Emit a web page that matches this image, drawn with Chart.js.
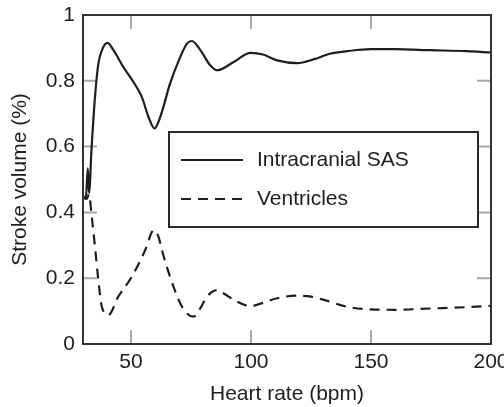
<!DOCTYPE html>
<html>
<head>
<meta charset="utf-8">
<script src="https://cdn.jsdelivr.net/npm/chart.js@4/dist/chart.umd.min.js"></script>
<style>
html,body{margin:0;padding:0;background:#fff;}
#wrap{width:504px;height:407px;position:relative;}
</style>
</head>
<body>
<div id="wrap"><canvas id="c" width="504" height="407"></canvas></div>
<script>
const sasX = [30, 31.2, 32, 32.5, 33.6, 35, 36.4, 38, 40.2, 42.7, 46.8, 49.6, 52, 54.5, 57.3, 59.8, 62.2, 66.3, 70.5, 73.3, 75.4, 78.9, 83, 85.8, 92.8, 99.8, 105, 110.9, 119.3, 126, 133.2, 140, 149.9, 160, 175, 190, 200];
const sasY = [0.447, 0.443, 0.534, 0.459, 0.599, 0.751, 0.852, 0.895, 0.915, 0.893, 0.842, 0.812, 0.785, 0.751, 0.69, 0.655, 0.69, 0.792, 0.872, 0.913, 0.921, 0.893, 0.847, 0.832, 0.857, 0.885, 0.88, 0.862, 0.854, 0.865, 0.883, 0.89, 0.896, 0.896, 0.893, 0.89, 0.886];
const venX = [30, 31.5, 32.5, 33.6, 35, 36.4, 37.8, 40.6, 44.7, 50.3, 55.9, 59.5, 61.5, 62.9, 66.3, 70.5, 73, 76.1, 79, 81.7, 85.8, 89, 92.8, 99.8, 105, 110.9, 119.3, 125, 130.4, 140.2, 149.9, 160, 175, 190, 200];
const venY = [0.45, 0.44, 0.455, 0.39, 0.295, 0.194, 0.115, 0.088, 0.144, 0.204, 0.285, 0.346, 0.325, 0.285, 0.204, 0.124, 0.095, 0.083, 0.11, 0.144, 0.164, 0.152, 0.134, 0.115, 0.125, 0.139, 0.147, 0.144, 0.134, 0.113, 0.105, 0.104, 0.108, 0.112, 0.116];
const xTicks = [50, 100, 150, 200];
const yTicks = [0, 0.2, 0.4, 0.6, 0.8, 1];
const yTickLabels = ['0', '0.2', '0.4', '0.6', '0.8', '1'];
const seriesNames = ['Intracranial SAS', 'Ventricles'];

const FONT = 'Liberation Sans, Arial, Helvetica, sans-serif';
const FS = 21;
const INK = '#1e1e1e';

function pts(xs, ys){ return xs.map((x,i)=>({x:x, y:ys[i]})); }

const frameAndTicks = {
  id: 'frameAndTicks',
  beforeDatasetsDraw(chart){
    const {ctx, chartArea:a, scales:{x, y}} = chart;
    ctx.save();
    ctx.strokeStyle = '#a8a8a8';
    ctx.lineWidth = 2;
    const L = 14;
    ctx.beginPath();
    xTicks.forEach(v=>{
      if (v <= x.min || v >= x.max) return;
      const px = x.getPixelForValue(v);
      ctx.moveTo(px, a.bottom); ctx.lineTo(px, a.bottom - L);
      ctx.moveTo(px, a.top); ctx.lineTo(px, a.top + L);
    });
    yTicks.forEach(v=>{
      if (v <= y.min || v >= y.max) return;
      const py = y.getPixelForValue(v);
      ctx.moveTo(a.left, py); ctx.lineTo(a.left + L, py);
      ctx.moveTo(a.right, py); ctx.lineTo(a.right - L, py);
    });
    ctx.stroke();
    ctx.restore();
  },
  afterDatasetsDraw(chart){
    const {ctx, chartArea:a} = chart;
    ctx.save();
    ctx.strokeStyle = '#333';
    ctx.lineWidth = 2;
    ctx.strokeRect(a.left, a.top, a.right - a.left, a.bottom - a.top);
    // legend box
    const bx = a.left + 86, by = a.top + 117, bw = 309, bh = 95;
    ctx.fillStyle = '#fff';
    ctx.fillRect(bx, by, bw, bh);
    ctx.strokeStyle = '#2a2a2a';
    ctx.lineWidth = 2;
    ctx.strokeRect(bx, by, bw, bh);
    const ds = chart.data.datasets;
    const rows = [by + 28, by + 67];
    ds.forEach((d, i)=>{
      const ry = rows[i];
      ctx.beginPath();
      ctx.strokeStyle = d.borderColor;
      ctx.lineWidth = d.borderWidth;
      ctx.setLineDash(d.borderDash || []);
      ctx.moveTo(bx + 12, ry); ctx.lineTo(bx + 74, ry);
      ctx.stroke();
      ctx.setLineDash([]);
      ctx.fillStyle = INK;
      ctx.font = FS + 'px ' + FONT;
      ctx.textBaseline = 'middle';
      ctx.textAlign = 'left';
      ctx.fillText(d.label, bx + 88, ry);
    });
    ctx.restore();
  }
};

new Chart(document.getElementById('c'), {
  type: 'line',
  data: {
    datasets: [
      { label: seriesNames[0], data: pts(sasX, sasY), borderColor: INK, borderWidth: 2.2, pointRadius: 0, fill: false, cubicInterpolationMode: 'monotone' },
      { label: seriesNames[1], data: pts(venX, venY), borderColor: INK, borderWidth: 2.2, borderDash: [10, 7], pointRadius: 0, fill: false, cubicInterpolationMode: 'monotone' }
    ]
  },
  options: {
    responsive: false,
    animation: false,
    layout: { padding: { left: 0, top: 15, right: 13, bottom: 0 } },
    plugins: { legend: { display: false }, tooltip: { enabled: false } },
    scales: {
      x: {
        type: 'linear', min: 30, max: 200,
        afterBuildTicks(s){ s.ticks = xTicks.map(v=>({value:v})); },
        afterFit(s){ s.height = 63; s.paddingLeft = 0; s.paddingRight = 0; },
        grid: { display: true, drawOnChartArea: false, drawTicks: false },
        border: { display: true, color: '#333', width: 2 },
        ticks: { color: INK, font: { family: FONT, size: FS }, padding: 6, maxRotation: 0 },
        title: { display: true, text: 'Heart rate (bpm)', color: INK, font: { family: FONT, size: FS }, padding: { top: 3, bottom: 0 } }
      },
      y: {
        type: 'linear', min: 0, max: 1,
        afterBuildTicks(s){ s.ticks = yTicks.map(v=>({value:v})); },
        afterFit(s){ s.width = 83; s.paddingTop = 0; s.paddingBottom = 0; },
        grid: { display: true, drawOnChartArea: false, drawTicks: false },
        border: { display: true, color: '#333', width: 2 },
        ticks: { color: INK, font: { family: FONT, size: FS }, padding: 8,
          callback(v){ const i = yTicks.indexOf(v); return i >= 0 ? yTickLabels[i] : ''; } },
        title: { display: true, text: 'Stroke volume (%)', color: INK, font: { family: FONT, size: FS }, padding: { top: 8, bottom: 4 } }
      }
    }
  },
  plugins: [frameAndTicks]
});
</script>
</body>
</html>
